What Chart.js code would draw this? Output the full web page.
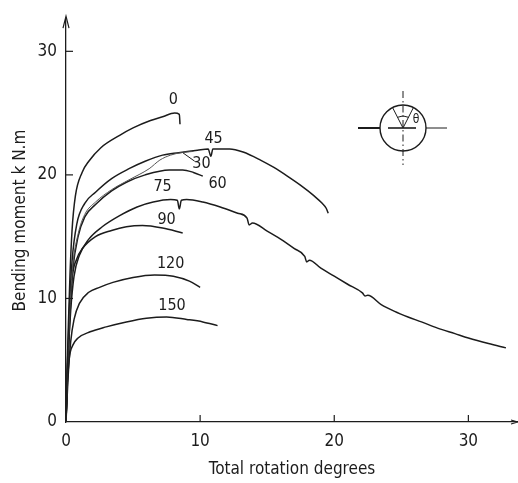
<!DOCTYPE html>
<html lang="en">
<head>
<meta charset="UTF-8">
<title>Bending moment vs total rotation</title>
<script src="https://cdn.jsdelivr.net/npm/chart.js@4.4.0/dist/chart.umd.min.js"></script>
<style>
    html, body { margin: 0; padding: 0; background: #fff; }
    .chart-box { position: relative; width: 518px; height: 483px; }
</style>
</head>
<body>
<div class="chart-box"><canvas id="momentChart"></canvas></div>
<script>
// crack angle (deg) of each test, same order as the curves below
const crackAngles = ['0', '30', '45', '60', '75', '90', '120', '150'];

// [total rotation deg, bending moment kN.m]
const curve0 = [[0,0],[0.08,4],[0.18,8],[0.3,12],[0.45,15.5],[0.7,18.3],[1.2,20.2],[1.7,21.1],[2.6,22.2],[4.0,23.2],[5.0,23.8],[6.3,24.4],[7.2,24.7],[8.1,25.0],[8.45,24.9],[8.5,24.1]];
const curve30 = [[0,0],[0.1,4],[0.28,9],[0.5,12.6],[0.9,15.2],[1.4,16.8],[2.2,17.8],[3.4,18.8],[4.7,19.6],[6.2,20.5],[7.0,21.2],[7.8,21.6],[8.6,21.8],[9.5,21.9]];
const curve45 = [[0,0],[0.1,4.5],[0.25,9],[0.45,13],[0.8,16],[1.4,17.7],[2.2,18.6],[3.4,19.7],[4.7,20.5],[5.9,21.1],[7.2,21.6],[8.4,21.8],[9.8,22.0],[10.6,22.1],[10.8,21.5],[10.95,22.1],[12.2,22.1],[13.2,21.85],[14.5,21.2],[15.5,20.6],[16.5,19.9],[17.5,19.15],[18.5,18.3],[19.1,17.7],[19.4,17.3],[19.55,16.9]];
const curve60 = [[0,0],[0.1,4],[0.28,9],[0.5,12.3],[0.9,15.0],[1.4,16.6],[2.2,17.6],[3.4,18.7],[4.5,19.4],[5.9,20.0],[7.7,20.4],[8.7,20.4],[9.5,20.2],[10.2,19.9]];
const curve75 = [[0,0],[0.15,5],[0.35,9],[0.6,11.8],[1.0,13.5],[1.7,14.8],[2.7,15.8],[4.0,16.7],[5.3,17.4],[6.5,17.8],[7.8,18.0],[8.3,17.95],[8.45,17.25],[8.6,17.95],[9.0,18.0],[10.2,17.8],[11.5,17.4],[12.8,16.9],[13.5,16.5],[13.65,15.95],[13.9,16.1],[15.0,15.45],[16.0,14.8],[17.0,14.05],[17.8,13.4],[17.95,12.95],[18.15,13.1],[19.0,12.45],[20.0,11.8],[21.0,11.15],[22.1,10.45],[22.3,10.2],[22.5,10.25],[23.5,9.5],[24.5,8.95],[25.5,8.5],[26.5,8.1],[27.7,7.6],[29.0,7.15],[30.0,6.8],[31.5,6.35],[32.8,6.0]];
const curve90 = [[0,0],[0.12,4],[0.25,7.5],[0.45,11.5],[0.8,13.2],[1.2,14.0],[2.2,15.0],[3.4,15.5],[4.5,15.8],[5.7,15.9],[7.2,15.7],[8.7,15.3]];
const curve120 = [[0,0],[0.15,3.5],[0.35,6.5],[0.6,8.3],[1.0,9.6],[1.7,10.5],[2.5,10.9],[3.5,11.3],[5.0,11.7],[6.6,11.9],[8.0,11.8],[9.2,11.4],[10.0,10.9]];
const curve150 = [[0,0],[0.1,3],[0.25,5.2],[0.5,6.2],[0.9,6.8],[1.8,7.3],[3.0,7.7],[4.5,8.1],[6.0,8.4],[7.5,8.5],[9.0,8.3],[10.2,8.1],[11.3,7.8]];

const xTicks = [0, 10, 20, 30];
const yTicks = [0, 10, 20, 30];

// where each angle label sits, in data units (same order as crackAngles)
const labelSpots = [[8.0,26.1],[10.1,20.9],[11.0,22.9],[11.3,19.3],[7.2,19.0],[7.5,16.4],[7.8,12.8],[7.9,9.4]];

const allCurves = [curve0, curve30, curve45, curve60, curve75, curve90, curve120, curve150];
const FONT = "'DejaVu Sans Condensed', 'Liberation Sans Narrow', 'DejaVu Sans', sans-serif";
const INK = '#1c1c1c';

// ticks point inwards, axis arrows, curve labels and the little crack sketch
const decorations = {
    id: 'decorations',
    afterDraw(chart) {
        const { ctx, chartArea: area, scales: { x, y } } = chart;
        ctx.save();
        ctx.strokeStyle = INK;
        ctx.fillStyle = INK;
        ctx.lineWidth = 1.2;

        xTicks.forEach(v => {
            if (v === 0) return;
            const px = x.getPixelForValue(v);
            ctx.beginPath(); ctx.moveTo(px, area.bottom); ctx.lineTo(px, area.bottom - 7); ctx.stroke();
        });
        yTicks.forEach(v => {
            if (v === 0) return;
            const py = y.getPixelForValue(v);
            ctx.beginPath(); ctx.moveTo(area.left, py); ctx.lineTo(area.left + 7, py); ctx.stroke();
        });

        // arrow heads
        ctx.beginPath();
        ctx.moveTo(area.left - 3, area.top + 9); ctx.lineTo(area.left, area.top - 3); ctx.lineTo(area.left + 3, area.top + 9);
        ctx.stroke();
        ctx.beginPath();
        ctx.moveTo(area.right - 7, area.bottom - 2); ctx.lineTo(area.right, area.bottom); ctx.lineTo(area.right - 7, area.bottom + 2);
        ctx.stroke();

        // angle labels
        ctx.font = '16px ' + FONT;
        ctx.textAlign = 'center';
        ctx.textBaseline = 'middle';
        crackAngles.forEach((t, i) => {
            ctx.fillText(t, x.getPixelForValue(labelSpots[i][0]), y.getPixelForValue(labelSpots[i][1]));
        });

        // leader from the "30" label to its curve
        ctx.lineWidth = 1;
        ctx.beginPath();
        ctx.moveTo(x.getPixelForValue(8.7), y.getPixelForValue(21.8));
        ctx.lineTo(x.getPixelForValue(9.6), y.getPixelForValue(21.1));
        ctx.stroke();

        // crack position sketch
        const cx = 403, cy = 128, r = 23;
        ctx.lineWidth = 1.4;
        ctx.beginPath(); ctx.arc(cx, cy, r, 0, Math.PI * 2); ctx.stroke();
        ctx.lineWidth = 2;
        ctx.beginPath(); ctx.moveTo(358, cy); ctx.lineTo(380, cy); ctx.stroke();
        ctx.lineWidth = 1.6;
        ctx.beginPath(); ctx.moveTo(388, cy); ctx.lineTo(416, cy); ctx.stroke();
        ctx.lineWidth = 1;
        ctx.beginPath(); ctx.moveTo(426, cy); ctx.lineTo(447, cy); ctx.stroke();
        ctx.setLineDash([7, 3, 1.5, 3]);
        ctx.beginPath(); ctx.moveTo(cx, 91); ctx.lineTo(cx, 165); ctx.stroke();
        ctx.setLineDash([]);
        const a = 27 * Math.PI / 180;
        ctx.beginPath();
        ctx.moveTo(cx - r * Math.sin(a), cy - r * Math.cos(a)); ctx.lineTo(cx, cy);
        ctx.lineTo(cx + r * Math.sin(a), cy - r * Math.cos(a));
        ctx.stroke();
        ctx.beginPath(); ctx.arc(cx, cy, 12, -Math.PI / 2 - a, -Math.PI / 2 + a); ctx.stroke();
        ctx.font = '12px ' + FONT;
        ctx.fillText('θ', 416, 120);
        ctx.restore();
    }
};

new Chart(document.getElementById('momentChart'), {
    type: 'scatter',
    data: {
        datasets: allCurves.map((c, i) => ({
            label: crackAngles[i],
            data: c.map(p => ({ x: p[0], y: p[1] })),
            showLine: true,
            borderColor: i === 1 ? '#555' : INK,
            borderWidth: i === 1 ? 1 : 1.5,
            pointRadius: 0,
            cubicInterpolationMode: 'monotone',
            fill: false
        }))
    },
    options: {
        responsive: true,
        maintainAspectRatio: false,
        animation: false,
        layout: { padding: { top: 15, right: 0, left: 0, bottom: 0 } },
        plugins: { legend: { display: false }, tooltip: { enabled: false } },
        scales: {
            x: {
                type: 'linear', min: 0, max: 33.7,
                afterBuildTicks: s => { s.ticks = xTicks.map(v => ({ value: v })); },
                afterFit: s => { s.height = 61; },
                grid: { display: false, drawTicks: false },
                border: { display: true, color: INK, width: 1.3 },
                ticks: { color: INK, padding: 9, font: { family: FONT, size: 17 } },
                title: { display: true, text: 'Total rotation degrees', color: INK,
                         font: { family: FONT, size: 17 }, padding: { top: 0, bottom: 3 } }
            },
            y: {
                type: 'linear', min: 0, max: 32.6,
                afterBuildTicks: s => { s.ticks = yTicks.map(v => ({ value: v })); },
                afterFit: s => { s.width = 66; },
                grid: { display: false, drawTicks: false },
                border: { display: true, color: INK, width: 1.3 },
                ticks: { color: INK, padding: 9, font: { family: FONT, size: 17 } },
                title: { display: true, text: 'Bending moment k N.m', color: INK,
                         font: { family: FONT, size: 17 }, padding: { top: 10, bottom: 0 } }
            }
        }
    },
    plugins: [decorations]
});
</script>
</body>
</html>
